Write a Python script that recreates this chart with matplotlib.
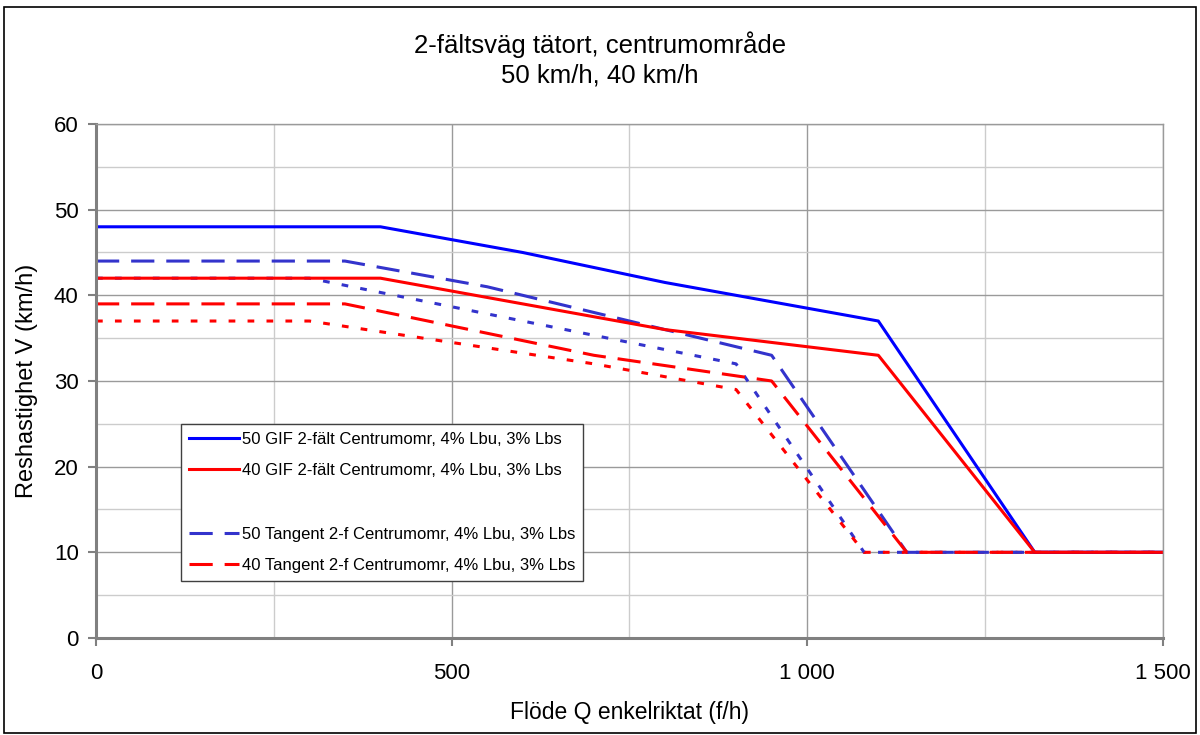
import matplotlib.pyplot as plt
from matplotlib.ticker import FuncFormatter, MultipleLocator
from matplotlib.lines import Line2D
from matplotlib.patches import Rectangle

plt.rcParams['font.family'] = ['Liberation Sans', 'DejaVu Sans']

# ── data ───────────────────────────────────────────────────────
gif50_q = [0, 400, 600, 800, 1100, 1320, 1500]
gif50_v = [48, 48, 45, 41.5, 37, 10, 10]

gif40_q = [0, 400, 800, 1100, 1320, 1500]
gif40_v = [42, 42, 36, 33, 10, 10]

tan50_q = [0, 350, 550, 950, 1140, 1500]
tan50_v = [44, 44, 41, 33, 10, 10]

tan40_q = [0, 350, 700, 950, 1140, 1500]
tan40_v = [39, 39, 33, 30, 10, 10]

tan50b_q = [0, 300, 600, 900, 1080, 1500]
tan50b_v = [42, 42, 37, 32, 10, 10]

tan40b_q = [0, 300, 700, 900, 1080, 1500]
tan40b_v = [37, 37, 32, 29, 10, 10]

labels = [
    "50 GIF 2-fält Centrumomr, 4% Lbu, 3% Lbs",
    "40 GIF 2-fält Centrumomr, 4% Lbu, 3% Lbs",
    "50 Tangent 2-f Centrumomr, 4% Lbu, 3% Lbs",
    "40 Tangent 2-f Centrumomr, 4% Lbu, 3% Lbs",
]

BLUE = "#0000ff"
RED = "#ff0000"
DBLUE = "#3333cc"

fig = plt.figure(figsize=(12, 7.35), dpi=100)
ax = fig.add_axes([0.08, 0.132, 0.889, 0.6993])

lw = 2.2
dash = (0, (7.6, 3.9))
dot = (0, (2.2, 4.0))

ax.plot(tan50b_q, tan50b_v, color=DBLUE, lw=lw, linestyle=dot, dash_capstyle='butt')
ax.plot(tan40b_q, tan40b_v, color=RED, lw=lw, linestyle=dot, dash_capstyle='butt')
l3, = ax.plot(tan50_q, tan50_v, color=DBLUE, lw=lw, linestyle=dash, dash_capstyle='butt')
l4, = ax.plot(tan40_q, tan40_v, color=RED, lw=lw, linestyle=dash, dash_capstyle='butt')
l1, = ax.plot(gif50_q, gif50_v, color=BLUE, lw=lw)
l2, = ax.plot(gif40_q, gif40_v, color=RED, lw=lw)

ax.set_xlim(0, 1500)
ax.set_ylim(0, 60)
ax.xaxis.set_major_locator(MultipleLocator(500))
ax.xaxis.set_minor_locator(MultipleLocator(250))
ax.yaxis.set_major_locator(MultipleLocator(10))
ax.yaxis.set_minor_locator(MultipleLocator(5))
ax.xaxis.set_major_formatter(FuncFormatter(lambda v, p: f"{int(v):,}".replace(",", " ")))

ax.grid(which='major', color='#9a9a9a', lw=1.0)
ax.grid(which='minor', color='#cccccc', lw=1.0)
ax.set_axisbelow(True)

for side in ['top', 'right']:
    ax.spines[side].set_color('#9a9a9a')
    ax.spines[side].set_linewidth(1.0)
for side in ['left', 'bottom']:
    ax.spines[side].set_color('#808080')
    ax.spines[side].set_linewidth(2.2)

ax.tick_params(which='major', direction='out', length=6, width=1.5, color='#808080',
               labelsize=16)
ax.tick_params(which='minor', length=0)
ax.tick_params(axis='y', pad=6.5)
ax.tick_params(axis='x', pad=12)

ax.set_xlabel("Flöde Q enkelriktat (f/h)", fontsize=16.5, labelpad=12)
ax.set_ylabel("Reshastighet V (km/h)", fontsize=17, labelpad=11)

fig.text(0.5, 0.939, "2-fältsväg tätort, centrumområde", ha='center', va='center', fontsize=18.5)
fig.text(0.5, 0.897, "50 km/h, 40 km/h", ha='center', va='center', fontsize=18.5)

blank = Line2D([], [], color='none')
leg = ax.legend([l1, l2, blank, l3, l4], [labels[0], labels[1], " ", labels[2], labels[3]],
                loc='upper left', bbox_to_anchor=(0.0797, 0.416), fontsize=12,
                frameon=True, fancybox=False, framealpha=1, edgecolor='#404040',
                handlelength=3.0, handletextpad=0.2, labelspacing=1.0,
                borderpad=0.45, borderaxespad=0)
leg.get_frame().set_linewidth(1.0)

fig.patches.append(Rectangle((0.003, 0.003), 0.994, 0.987, transform=fig.transFigure,
                             fill=False, edgecolor='black', lw=1.2))

fig.savefig("out.png", dpi=100)
